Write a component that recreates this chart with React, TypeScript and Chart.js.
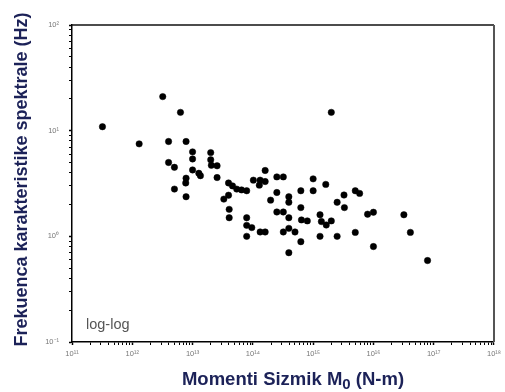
import React, { useEffect, useRef } from "react";
import { Chart, registerables } from "chart.js";

Chart.register(...registerables);

const seismicMoment: number[] = [
  3.2e11, 1.3e12, 3.2e12, 6.3e12, 4.0e12, 7.8e12, 4.0e12, 5.0e12, 5.0e12, 1.0e13,
  1.0e13, 1.0e13, 1.27e13, 1.35e13, 7.8e12, 7.7e12, 7.8e12, 2.0e13, 2.0e13, 2.05e13,
  2.55e13, 2.55e13, 3.95e13, 4.6e13, 5.4e13, 6.5e13, 7.9e13, 3.95e13, 3.3e13, 4.05e13,
  4.05e13, 7.9e13, 7.9e13, 9.6e13, 1.32e14, 1.6e14, 7.9e13, 1.02e14, 1.32e14, 1.6e14,
  1.28e14, 1.6e14, 1.97e14, 2.5e14, 3.2e14, 2.5e14, 2.5e14, 3.2e14, 3.95e14, 3.95e14,
  3.95e14, 6.25e14, 6.25e14, 6.4e14, 8.0e14, 3.2e14, 3.95e14, 5.0e14, 6.25e14, 3.95e14,
  1.0e15, 1.0e15, 1.62e15, 1.3e15, 1.37e15, 1.65e15, 2.0e15, 1.3e15, 2.0e15, 2.5e15,
  3.3e15, 3.25e15, 2.5e15, 5.0e15, 5.9e15, 5.0e15, 8.0e15, 1.0e16, 1.0e16, 3.2e16,
  4.1e16, 7.9e16,
];

const cornerFrequency: number[] = [
  10.9, 7.5, 21, 14.9, 7.9, 7.9, 5.0, 4.5, 2.8, 6.3,
  5.4, 4.25, 3.95, 3.75, 3.55, 3.2, 2.37, 6.2, 5.3, 4.7,
  4.65, 3.6, 3.2, 3.0, 2.8, 2.75, 2.7, 2.45, 2.25, 1.8,
  1.5, 1.5, 1.27, 1.21, 1.1, 1.1, 1.0, 3.4, 3.4, 4.2,
  3.05, 3.3, 2.2, 3.65, 3.65, 2.6, 1.7, 1.7, 2.37, 2.1,
  1.5, 2.7, 1.87, 1.43, 1.4, 1.1, 1.19, 1.1, 0.89, 0.7,
  3.5, 2.7, 3.1, 1.6, 1.38, 1.28, 1.4, 1.0, 14.9, 2.1,
  1.87, 2.46, 1.0, 2.7, 2.55, 1.09, 1.62, 1.69, 0.8, 1.6,
  1.09, 0.59,
];

const xDecades: number[] = [1e11, 1e12, 1e13, 1e14, 1e15, 1e16, 1e17, 1e18];
const yDecades: number[] = [0.1, 1, 10, 100];

const xTitleMain = "Momenti Sizmik M";
const xTitleSub = "0";
const xTitleEnd = " (N-m)";
const yTitle = "Frekuenca karakteristike spektrale (Hz)";
const noteText = "log-log";

const SUP: Record<string, string> = {
  "-": "\u207B", "0": "\u2070", "1": "\u00B9", "2": "\u00B2", "3": "\u00B3",
  "4": "\u2074", "5": "\u2075", "6": "\u2076", "7": "\u2077", "8": "\u2078", "9": "\u2079",
};

function powLabel(v: number): string {
  const e = Math.round(Math.log10(v));
  return "10" + String(e).split("").map((c) => SUP[c] || c).join("");
}

function withMinors(decades: number[]): { value: number; major: boolean }[] {
  const out: { value: number; major: boolean }[] = [];
  for (let i = 0; i < decades.length; i++) {
    out.push({ value: decades[i], major: true });
    if (i < decades.length - 1) {
      for (let k = 2; k <= 9; k++) out.push({ value: decades[i] * k, major: false });
    }
  }
  return out;
}

const TITLE_COLOR = "#1c2258";
const TITLE_FONT = "bold 18.5px 'Liberation Sans', Arial, sans-serif";
const SUB_FONT = "bold 15px 'Liberation Sans', Arial, sans-serif";

const decorPlugin = {
  id: "decor",
  afterDraw(chart: any) {
    const { ctx, chartArea } = chart;
    const { left, right, top, bottom } = chartArea;
    ctx.save();
    ctx.lineWidth = 1.5;
    ctx.strokeStyle = "#111";
    ctx.beginPath();
    ctx.moveTo(left, top);
    ctx.lineTo(right, top);
    ctx.stroke();
    ctx.strokeStyle = "#555";
    ctx.lineWidth = 2;
    ctx.beginPath();
    ctx.moveTo(right, top);
    ctx.lineTo(right, bottom);
    ctx.stroke();

    ctx.fillStyle = "#555";
    ctx.font = "14.5px 'Liberation Sans', Arial, sans-serif";
    ctx.textAlign = "left";
    ctx.textBaseline = "alphabetic";
    ctx.fillText(noteText, left + 14, bottom - 13);

    ctx.fillStyle = TITLE_COLOR;
    ctx.font = TITLE_FONT;
    const w1 = ctx.measureText(xTitleMain).width;
    const w3 = ctx.measureText(xTitleEnd).width;
    ctx.font = SUB_FONT;
    const w2 = ctx.measureText(xTitleSub).width;
    const total = w1 + w2 + w3;
    let x = 293 - total / 2;
    const baseY = 385;
    ctx.font = TITLE_FONT;
    ctx.fillText(xTitleMain, x, baseY);
    x += w1;
    ctx.font = SUB_FONT;
    ctx.fillText(xTitleSub, x, baseY + 4);
    x += w2;
    ctx.font = TITLE_FONT;
    ctx.fillText(xTitleEnd, x, baseY);

    ctx.translate(22, (top + bottom) / 2 - 4);
    ctx.rotate(-Math.PI / 2);
    ctx.textAlign = "center";
    ctx.textBaseline = "middle";
    ctx.font = "bold 18px 'Liberation Sans', Arial, sans-serif";
    ctx.fillText(yTitle, 0, 0);
    ctx.restore();
  },
};

export default function App() {
  const ref = useRef<HTMLCanvasElement | null>(null);

  useEffect(() => {
    if (!ref.current) return;
    const points = seismicMoment.map((m, i) => ({ x: m, y: cornerFrequency[i] }));
    const tickFont = { size: 7.5, family: "'Liberation Sans', Arial, sans-serif" };
    const chart = new Chart(ref.current, {
      type: "scatter",
      data: {
        datasets: [
          {
            data: points,
            backgroundColor: "#000",
            borderColor: "#000",
            borderWidth: 0.5,
            pointRadius: 3.2,
            pointStyle: "circle",
          },
        ],
      },
      options: {
        animation: false,
        responsive: false,
        maintainAspectRatio: false,
        layout: { padding: { top: 25, right: 8, bottom: 0, left: 0 } },
        plugins: { legend: { display: false }, tooltip: { enabled: false } },
        scales: {
          x: {
            type: "logarithmic",
            min: 1e11,
            max: 1e18,
            afterBuildTicks: (s: any) => {
              s.ticks = withMinors(xDecades);
            },
            afterFit: (s: any) => {
              s.height = 50;
            },
            ticks: {
              autoSkip: false,
              maxRotation: 0,
              padding: 4,
              color: "#777",
              font: tickFont,
              callback: (v: any) => (xDecades.includes(Number(v)) ? powLabel(Number(v)) : ""),
            },
            grid: {
              drawOnChartArea: false,
              drawTicks: true,
              tickLength: 3,
              tickColor: "#000",
              tickWidth: (c: any) => (c.tick && xDecades.includes(c.tick.value) ? 1.5 : 1),
            },
            border: { display: true, color: "#000", width: 1.5 },
          },
          y: {
            type: "logarithmic",
            min: 0.1,
            max: 100,
            afterBuildTicks: (s: any) => {
              s.ticks = withMinors(yDecades);
            },
            afterFit: (s: any) => {
              s.width = 72;
            },
            ticks: {
              autoSkip: false,
              padding: 10,
              color: "#777",
              font: tickFont,
              callback: (v: any) => (yDecades.includes(Number(v)) ? powLabel(Number(v)) : ""),
            },
            grid: {
              drawOnChartArea: false,
              drawTicks: true,
              tickLength: 3,
              tickColor: "#000",
              tickWidth: (c: any) => (c.tick && yDecades.includes(c.tick.value) ? 1.5 : 1),
            },
            border: { display: true, color: "#000", width: 1.5 },
          },
        },
      },
      plugins: [decorPlugin],
    });
    return () => chart.destroy();
  }, []);

  return (
    <div style={{ position: "absolute", left: 0, top: 0, width: 505, height: 392, background: "#fff" }}>
      <canvas ref={ref} width={505} height={392} style={{ width: 505, height: 392, display: "block" }} />
    </div>
  );
}
